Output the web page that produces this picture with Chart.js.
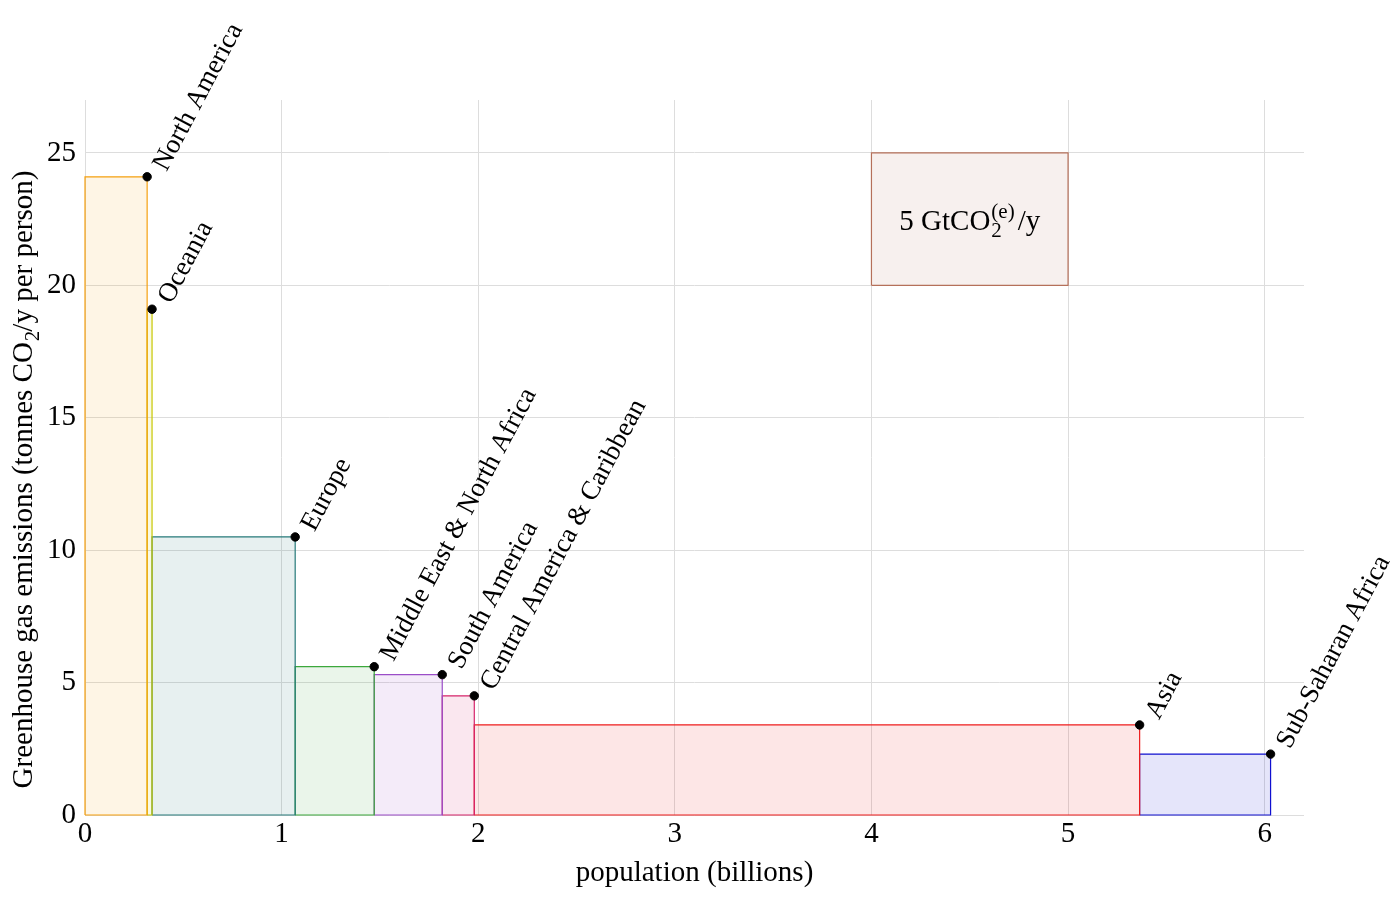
<!DOCTYPE html>
<html>
<head>
<meta charset="utf-8">
<script src="https://cdn.jsdelivr.net/npm/chart.js@4/dist/chart.umd.min.js"></script>
<style>
	body { margin: 0; background: #fff; }
</style>
</head>
<body>
<canvas id="chart" width="1390" height="899"></canvas>
<script>
// ----- ----- -----
// data
// ----- ----- -----

const regions = [
	'North America',
	'Oceania',
	'Europe',
	'Middle East & North Africa',
	'South America',
	'Central America & Caribbean',
	'Asia',
	'Sub-Saharan Africa'
];
// population in billions (bar widths)
const population = [0.316, 0.025, 0.728, 0.402, 0.346, 0.163, 3.384, 0.666];
// tonnes CO2 per person per year (bar heights)
const emissions = [24.1, 19.1, 10.5, 5.6, 5.3, 4.5, 3.4, 2.3];
const colors = ['#f5a00f', '#c8c800', '#267a7a', '#3ca83c', '#9b4dc8', '#d6246b', '#ee1c1c', '#1010d0'];

const xTicks = [0, 1, 2, 3, 4, 5, 6];
const yTicks = [0, 5, 10, 15, 20, 25];

// reference box: 1 billion people x 5 t = 5 GtCO2/y
const scaleBoxX = [4, 5];
const scaleBoxY = [20, 25];
const scaleBoxColor = '#b5705a';

const FONT = '"Liberation Serif", "DejaVu Serif", serif';
const FONT_SIZE = 29;
const LABEL_SIZE = 27;

// ----- ----- -----
// datasets
// ----- ----- -----

let datasets = [];
let corners = [];
let start = 0;

regions.forEach((name, i) => {
	let end = start + population[i];
	datasets.push({
		type: 'line',
		label: name,
		data: [
			{x: start, y: 0},
			{x: start, y: emissions[i]},
			{x: end, y: emissions[i]},
			{x: end, y: 0},
			{x: start, y: 0}
		],
		borderColor: colors[i],
		backgroundColor: colors[i] + '1c',
		borderWidth: 1.2,
		fill: 'shape',
		pointRadius: 0,
		tension: 0,
		clip: false
	});
	corners.push({x: end, y: emissions[i]});
	start = end;
});

datasets.push({
	type: 'line',
	label: 'scale',
	data: [
		{x: scaleBoxX[0], y: scaleBoxY[0]},
		{x: scaleBoxX[0], y: scaleBoxY[1]},
		{x: scaleBoxX[1], y: scaleBoxY[1]},
		{x: scaleBoxX[1], y: scaleBoxY[0]},
		{x: scaleBoxX[0], y: scaleBoxY[0]}
	],
	borderColor: scaleBoxColor,
	backgroundColor: scaleBoxColor + '1a',
	borderWidth: 1.2,
	fill: 'shape',
	pointRadius: 0,
	tension: 0
});

// corner dots go first so they end up on top
datasets.unshift({
	type: 'scatter',
	label: 'corners',
	data: corners,
	backgroundColor: '#000',
	borderColor: '#000',
	pointRadius: 4.2,
	showLine: false,
	clip: false
});

// ----- ----- -----
// text drawn on the canvas
// ----- ----- -----

// parts: [{t, sub, sup}] drawn centered at (x, y)
function drawRich(ctx, parts, x, y, size) {
	let small = Math.round(size * 0.72);
	let widths = parts.map(p => {
		ctx.font = `${size}px ${FONT}`;
		let w = p.t ? ctx.measureText(p.t).width : 0;
		ctx.font = `${small}px ${FONT}`;
		let ws = Math.max(p.sub ? ctx.measureText(p.sub).width : 0, p.sup ? ctx.measureText(p.sup).width : 0);
		return w + ws + (p.sup ? 4 : 0);
	});
	let total = widths.reduce((a, b) => a + b, 0);
	let cx = x - total / 2;
	parts.forEach((p, i) => {
		ctx.font = `${size}px ${FONT}`;
		if (p.t) {
			ctx.fillText(p.t, cx, y);
		}
		let w = p.t ? ctx.measureText(p.t).width : 0;
		ctx.font = `${small}px ${FONT}`;
		if (p.sub) ctx.fillText(p.sub, cx + w + 1, y + 7);
		if (p.sup) ctx.fillText(p.sup, cx + w + 1, y - 12);
		cx += widths[i];
	});
}

const textPlugin = {
	id: 'textPlugin',
	afterDatasetsDraw(chart) {
		const ctx = chart.ctx;
		const xs = chart.scales.x;
		const ys = chart.scales.y;
		const area = chart.chartArea;

		ctx.save();
		ctx.fillStyle = '#000';
		ctx.textAlign = 'left';
		ctx.textBaseline = 'alphabetic';
		ctx.font = `${LABEL_SIZE}px ${FONT}`;

		// region names, slanted
		corners.forEach((c, i) => {
			ctx.save();
			ctx.translate(xs.getPixelForValue(c.x), ys.getPixelForValue(c.y));
			ctx.rotate(-62 * Math.PI / 180);
			ctx.fillText(regions[i], 13, 15);
			ctx.restore();
		});

		// scale box label
		let bx = xs.getPixelForValue((scaleBoxX[0] + scaleBoxX[1]) / 2);
		let by = ys.getPixelForValue((scaleBoxY[0] + scaleBoxY[1]) / 2);
		drawRich(ctx, [{t: '5 GtCO', sub: '2', sup: '(e)'}, {t: '/y'}], bx, by + 11, FONT_SIZE);

		// y axis title
		ctx.save();
		ctx.translate(area.left - 63, (area.top + area.bottom) / 2 + 22);
		ctx.rotate(-Math.PI / 2);
		drawRich(ctx, [{t: 'Greenhouse gas emissions (tonnes CO', sub: '2'}, {t: '/y per person)'}], 0, 10, FONT_SIZE);
		ctx.restore();

		ctx.restore();
	}
};

// ----- ----- -----
// chart
// ----- ----- -----

const chart = new Chart('chart', {
	type: 'scatter',
	data: {datasets: datasets},
	options: {
		responsive: false,
		devicePixelRatio: 1,
		animation: false,
		layout: {
			padding: {top: 100, right: 86, left: 0, bottom: 0}
		},
		plugins: {
			legend: {display: false},
			tooltip: {enabled: false}
		},
		scales: {
			x: {
				type: 'linear',
				min: 0,
				max: 6.2,
				afterFit: s => { s.height = 84; },
				afterBuildTicks: s => { s.ticks = xTicks.map(v => ({value: v})); },
				grid: {color: '#dddddd', drawTicks: false},
				border: {display: false},
				ticks: {
					color: '#000',
					padding: 2,
					font: {family: FONT, size: FONT_SIZE}
				},
				title: {
					display: true,
					text: 'population (billions)',
					color: '#000',
					padding: {top: 0, bottom: 8},
					font: {family: FONT, size: FONT_SIZE}
				}
			},
			y: {
				type: 'linear',
				min: 0,
				max: 27,
				afterFit: s => { s.width = 85; },
				afterBuildTicks: s => { s.ticks = yTicks.map(v => ({value: v})); },
				grid: {color: '#dddddd', drawTicks: false},
				border: {display: false},
				ticks: {
					color: '#000',
					padding: 9,
					font: {family: FONT, size: FONT_SIZE}
				}
			}
		}
	},
	plugins: [textPlugin]
});
</script>
</body>
</html>
